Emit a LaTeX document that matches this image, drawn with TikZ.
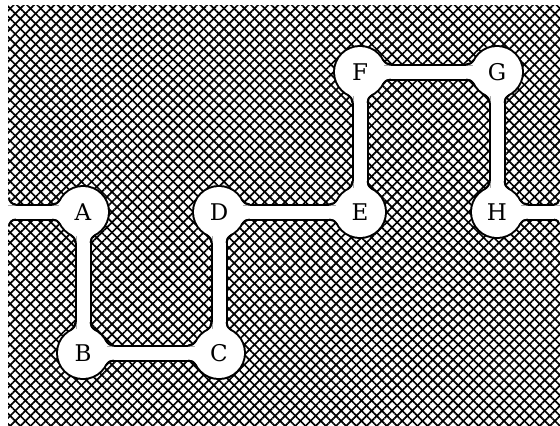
\documentclass[tikz,border=0pt]{standalone}
\usepackage{fontspec}
\setmainfont{DejaVu Serif}
\usepackage{tikz}
\usetikzlibrary{patterns.meta}
\pgfdeclarelayer{back}
\pgfsetlayers{back,main}

\begin{document}
\begin{tikzpicture}
    [x=1pt, y=-1pt,
station/.style={circle, inner sep=0pt, minimum size=50pt, font=\fontsize{23}{28}\selectfont},
wall/.style={line width=17pt, black},
lane/.style={line width=13pt, white},
crossfill/.style={pattern={Lines[angle=#1,distance=7.2pt,line width=1.7pt]}}
]
\useasboundingbox (0,0) rectangle (560,426);

\node[station](nodeA) at (83,212) {A};
\node[station](nodeB) at (83,353) {B};
\node[station](nodeC) at (219,353) {C};
\node[station](nodeD) at (219,212) {D};
\node[station](nodeE) at (360,212) {E};
\node[station](nodeF) at (360,72) {F};
\node[station](nodeG) at (497,72) {G};
\node[station](nodeH) at (497,212) {H};
\coordinate (edgeL) at (0,212);
\coordinate (entry) at (8,212);
\coordinate (exit) at (560,212);

\begin{pgfonlayer}{back}
% hatched ground
\fill[crossfill=45] (8,5) rectangle (560,426);
\fill[crossfill=-45] (8,5) rectangle (560,426);
% dark rims
\draw[wall] (entry) -- (nodeA.center) -- (nodeB.center) -- (nodeC.center) -- (nodeD.center) -- (nodeE.center) -- (nodeF.center) -- (nodeG.center) -- (nodeH.center) -- (exit);
\foreach \n in {A,B,C,D,E,F,G,H} \fill (node\n.center) circle[radius=27];
% white path
\draw[lane] (edgeL) -- (nodeA.center) -- (nodeB.center) -- (nodeC.center) -- (nodeD.center) -- (nodeE.center) -- (nodeF.center) -- (nodeG.center) -- (nodeH.center) -- (exit);
\foreach \n in {A,B,C,D,E,F,G,H} \fill[white] (node\n.center) circle[radius=25];
% rounded joins at the circles
\foreach \n/\a in {A/180,A/-90,B/90,B/0,C/180,C/90,D/-90,D/0,E/180,E/90,F/-90,F/0,G/180,G/-90,H/90,H/0}
  \foreach \s in {1,-1} {
    \begin{scope}[shift={(node\n.center)}, rotate=\a, yscale=\s]
      \fill[white] (30.87,6.5) arc[start angle=270, end angle=208.13, radius=10] -- (0,6.5) -- cycle;
      \draw[line width=2pt] (30.87,7.5) arc[start angle=270, end angle=208.13, radius=9];
    \end{scope}
  }
% rounded joins at the edges
\foreach \c/\a/\r in {entry/0/8,exit/180/6}
  \foreach \s in {1,-1} {
    \begin{scope}[shift={(\c)}, rotate=\a, yscale=\s]
      \fill[white] (0,6.5) -- (\r,6.5) arc[start angle=270, end angle=180, radius=\r] -- cycle;
      \draw[line width=2pt] (\r,7.5) arc[start angle=270, end angle=180, radius=\r-1];
    \end{scope}
  }
\end{pgfonlayer}
\end{tikzpicture}
\end{document}
